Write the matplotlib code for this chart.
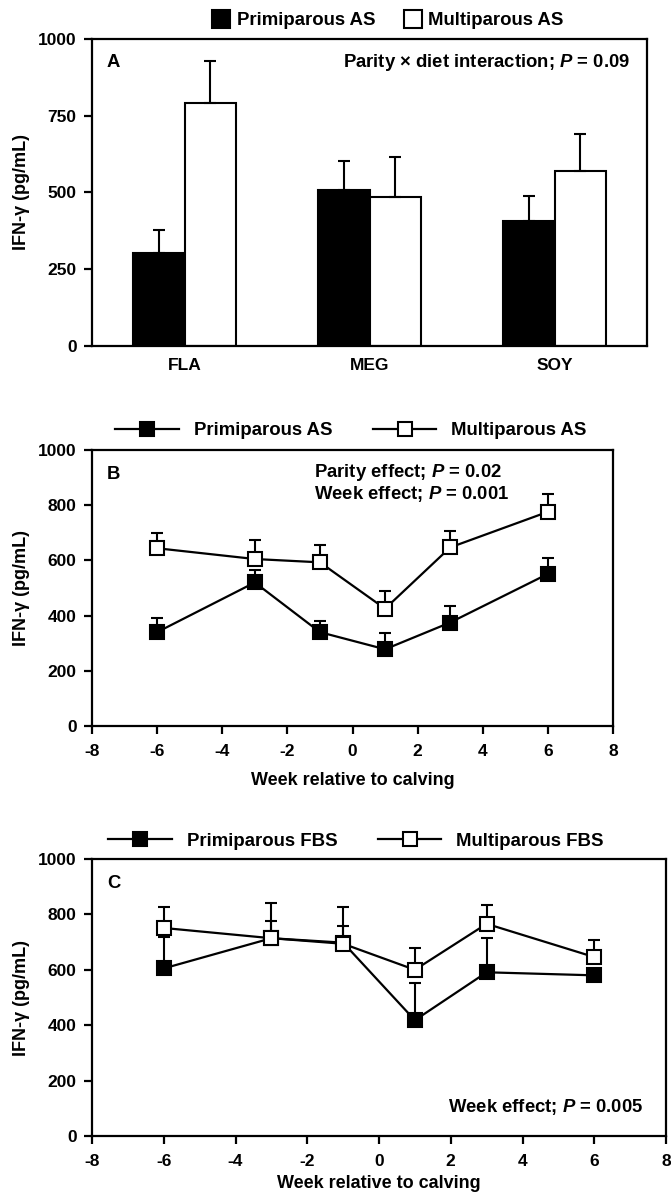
import matplotlib.pyplot as plt
import numpy as np
from matplotlib.lines import Line2D

plt.rcParams["font.family"] = ["Liberation Sans", "DejaVu Sans"]
plt.rcParams["font.weight"] = "bold"
plt.rcParams["axes.labelweight"] = "bold"
plt.rcParams["axes.unicode_minus"] = False
plt.rcParams["mathtext.fontset"] = "custom"
plt.rcParams["mathtext.it"] = "Liberation Sans:italic:bold"
plt.rcParams["mathtext.rm"] = "Liberation Sans:bold"

# Panel A: diet means (upper SE only)
diets = ["FLA", "MEG", "SOY"]
prim_diet = [302, 507, 406]
prim_diet_se = [76, 95, 84]
multi_diet = [793, 486, 569]
multi_diet_se = [134, 129, 123]

# Panel B: AS by week
weeks = [-6, -3, -1, 1, 3, 6]
prim_as = [340, 520, 340, 278, 375, 551]
prim_as_se = [50, 44, 42, 58, 58, 56]
multi_as = [644, 605, 593, 425, 647, 776]
multi_as_se = [57, 69, 63, 63, 61, 63]

# Panel C: FBS by week
prim_fbs = [605, 714, 698, 418, 591, 580]
prim_fbs_se = [115, 62, 60, 133, 124, 20]
multi_fbs = [751, 714, 694, 600, 766, 646]
multi_fbs_se = [76, 126, 133, 77, 67, 61]

W, H = 671, 1196
fig = plt.figure(figsize=(W / 100, H / 100), dpi=100)
ylab = "IFN-γ (pg/mL)"
fs_tick = 12.5
fs_text = 13.3


def add_axes(left, top, right, bottom):
    # pixel box -> figure fraction
    return fig.add_axes([left / W, 1 - bottom / H, (right - left) / W, (bottom - top) / H])


def style(ax):
    for sp in ax.spines.values():
        sp.set_linewidth(1.6)
    ax.tick_params(width=1.6, length=6, labelsize=fs_tick, pad=5)
    ax.set_ylabel(ylab, fontsize=13, labelpad=6)


# ---------- A ----------
axA = add_axes(92, 39, 647, 346)
x = np.arange(len(diets))
w = 0.28
ekw_bar = dict(ecolor="black", elinewidth=1.5, capsize=4.5, capthick=1.5)
axA.bar(x - w / 2, prim_diet, w, color="black", edgecolor="black", linewidth=1.5,
        yerr=[np.zeros(3), prim_diet_se], error_kw=ekw_bar)
axA.bar(x + w / 2, multi_diet, w, color="white", edgecolor="black", linewidth=1.5,
        yerr=[np.zeros(3), multi_diet_se], error_kw=ekw_bar)
axA.set_xlim(-0.5, 2.5)
axA.set_ylim(0, 1000)
axA.set_yticks([0, 250, 500, 750, 1000])
axA.set_xticks(x)
axA.set_xticklabels(diets)
style(axA)
axA.tick_params(axis="x", length=0, pad=9)
axA.text(0.027, 0.922, "A", transform=axA.transAxes, fontsize=fs_text, va="center")
axA.text(0.969, 0.922, r"Parity × diet interaction; $P$ = 0.09", transform=axA.transAxes,
         fontsize=fs_text, va="center", ha="right")
hA = [Line2D([], [], ls="none", marker="s", ms=13, mfc="black", mec="black", mew=1.5),
      Line2D([], [], ls="none", marker="s", ms=13, mfc="white", mec="black", mew=1.5)]
axA.legend(hA, ["Primiparous AS", "Multiparous AS"], loc="center", ncol=2, frameon=False,
           bbox_to_anchor=(0.533, 1.059), fontsize=13.4, handlelength=1.0,
           handletextpad=0.35, columnspacing=1.5, borderpad=0)


def line_panel(ax, prim, prim_se, multi, multi_se, xpad):
    ekw = dict(fmt="none", ecolor="black", elinewidth=1.5, capsize=4.5, capthick=1.5)
    ax.errorbar(weeks, prim, yerr=[np.zeros(6), prim_se], zorder=2, **ekw)
    ax.errorbar(weeks, multi, yerr=[np.zeros(6), multi_se], zorder=2, **ekw)
    ax.plot(weeks, prim, color="black", lw=1.6, marker="s", ms=10, mfc="black",
            mec="black", mew=1.5, zorder=3)
    ax.plot(weeks, multi, color="black", lw=1.6, marker="s", ms=10, mfc="white",
            mec="black", mew=1.5, zorder=4)
    ax.set_xlim(-8, 8)
    ax.set_ylim(0, 1000)
    ax.set_xticks(range(-8, 9, 2))
    ax.set_yticks(range(0, 1001, 200))
    style(ax)
    ax.tick_params(axis="x", pad=7)
    ax.set_xlabel("Week relative to calving", fontsize=13, labelpad=xpad)
    h = [Line2D([], [], color="black", lw=1.6, marker="s", ms=10, mfc="black", mec="black", mew=1.5),
         Line2D([], [], color="black", lw=1.6, marker="s", ms=10, mfc="white", mec="black", mew=1.5)]
    return h


# ---------- B ----------
axB = add_axes(92, 450, 613, 726)
hB = line_panel(axB, prim_as, prim_as_se, multi_as, multi_as_se, 9)
axB.legend(hB, ["Primiparous AS", "Multiparous AS"], loc="center", ncol=2, frameon=False,
           bbox_to_anchor=(0.497, 1.069), fontsize=13.4, handlelength=3.4,
           handletextpad=0.8, columnspacing=2.2, borderpad=0)
axB.text(0.029, 0.913, "B", transform=axB.transAxes, fontsize=fs_text, va="center")
axB.text(0.426, 0.917, r"Parity effect; $P$ = 0.02", transform=axB.transAxes,
         fontsize=fs_text, va="center")
axB.text(0.426, 0.841, r"Week effect; $P$ = 0.001", transform=axB.transAxes,
         fontsize=fs_text, va="center")

# ---------- C ----------
axC = add_axes(92, 859, 666, 1136)
hC = line_panel(axC, prim_fbs, prim_fbs_se, multi_fbs, multi_fbs_se, 4)
axC.legend(hC, ["Primiparous FBS", "Multiparous FBS"], loc="center", ncol=2, frameon=False,
           bbox_to_anchor=(0.46, 1.065), fontsize=13.4, handlelength=3.4,
           handletextpad=0.8, columnspacing=2.2, borderpad=0)
axC.text(0.026, 0.913, "C", transform=axC.transAxes, fontsize=fs_text, va="center")
axC.text(0.96, 0.105, r"Week effect; $P$ = 0.005", transform=axC.transAxes,
         fontsize=fs_text, va="center", ha="right")

fig.savefig("out.png", dpi=100)
